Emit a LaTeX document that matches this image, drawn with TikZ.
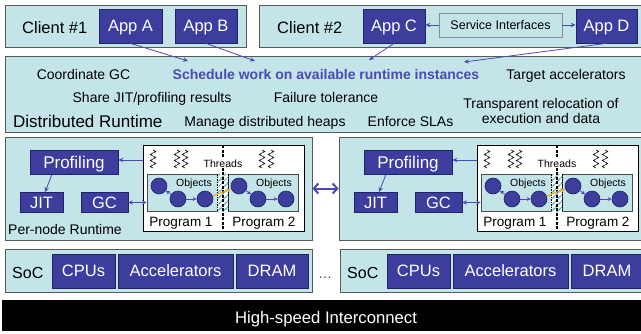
\documentclass[tikz,border=0pt]{standalone}
\usepackage{fontspec}
\setmainfont{Liberation Sans}
\usetikzlibrary{arrows.meta,decorations.pathmorphing,patterns.meta}
\definecolor{paneltl}{HTML}{C4E5E8}
\definecolor{dblue}{HTML}{3D3D9E}
\definecolor{dborder}{HTML}{22226A}
\definecolor{ablue}{HTML}{4A4AB4}
\definecolor{orng}{HTML}{F2A81D}
\definecolor{stripe}{HTML}{5FAAB2}
\newcommand{\myfs}[1]{\fontsize{#1pt}{#1pt}\selectfont}
\tikzset{
  panel/.style={draw=black!65, fill=paneltl, line width=0.9pt, inner sep=0pt},
  blk/.style={draw=dborder, fill=dblue, text=white, line width=0.7pt, inner sep=0pt, text depth=0pt},
  f165/.style={font=\myfs{16.5}, text height=11.8pt},
  arr/.style={draw=ablue, line width=0.8pt, -{Stealth[length=5pt,width=4.5pt]}},
  carr/.style={draw=ablue, line width=0.8pt, -{Stealth[length=4pt,width=4pt]}},
  lbl/.style={anchor=base, inner sep=0pt},
  circ/.style={circle, draw=dborder, fill=dblue, minimum size=16pt, inner sep=0pt, line width=0.6pt},
  squig/.style={decorate, decoration={zigzag, segment length=6pt, amplitude=2.8pt}, line width=0.6pt},
}
\begin{document}
\begin{tikzpicture}[x=1pt,y=-1pt]
\useasboundingbox (0,0) rectangle (641,333);
\clip (0,0) rectangle (641,333);

% ---------- clients ----------
\node[panel, minimum width=241pt, minimum height=42pt] (cl1) at (125.5,26) {};
\node[lbl, anchor=base west, font=\myfs{16.5}] (cl1t) at (22,33) {Client \#1};
\node[blk, f165, minimum width=63pt, minimum height=34pt] (appA) at (130.5,26) {App A};
\node[blk, f165, minimum width=62pt, minimum height=34pt] (appB) at (206,26) {App B};

\node[panel, minimum width=391pt, minimum height=42pt] (cl2) at (454.5,26) {};
\node[lbl, anchor=base west, font=\myfs{16.5}] (cl2t) at (277,33) {Client \#2};
\node[blk, f165, minimum width=62pt, minimum height=34pt] (appC) at (394,26) {App C};
\node[draw=black!45, fill=paneltl, line width=0.8pt, inner sep=0pt, minimum width=123pt, minimum height=24pt,
      font=\myfs{12.5}, text height=9pt, text depth=0pt] (svc) at (500.5,25) {Service Interfaces};
\node[blk, f165, minimum width=61pt, minimum height=34pt] (appD) at (606.5,26) {App D};
\draw[arr] (svc.west) -- (svc.west -| appC.east);
\draw[arr] (svc.east) -- (svc.east -| appD.west);

% ---------- distributed runtime ----------
\node[panel, minimum width=645pt, minimum height=76pt] (dr) at (327.5,94) {};
\node[lbl, font=\myfs{14}] (t1) at (83.5,79) {Coordinate GC};
\node[lbl, font=\myfs{14}\bfseries, text=ablue] (t2) at (326,79) {Schedule work on available runtime instances};
\node[lbl, font=\myfs{14}] (t3) at (566,79) {Target accelerators};
\node[lbl, font=\myfs{14}] (t4) at (152,102) {Share JIT/profiling results};
\node[lbl, font=\myfs{14}] (t5) at (326,102) {Failure tolerance};
\node[lbl, anchor=base west, font=\myfs{17}] (t6) at (13,127) {Distributed Runtime};
\node[lbl, font=\myfs{14}] (t7) at (265,126) {Manage distributed heaps};
\node[lbl, font=\myfs{14}] (t8) at (410.5,126) {Enforce SLAs};
\node[lbl, font=\myfs{14}] (t9) at (541,108) {Transparent relocation of};
\node[lbl, font=\myfs{14}] (t10) at (541,123) {execution and data};

\coordinate (sA) at (188,61);
\coordinate (sB) at (255,61);
\coordinate (sC) at (369,60);
\coordinate (sD) at (464,62);
\draw[arr] (appA.south) -- (sA);
\draw[arr] (appB.south) -- (sB);
\draw[arr] (appC.south) -- (sC);
\draw[arr] (appD.south) -- (sD);

% ---------- per-node runtimes ----------
\foreach \s/\dx in {L/0,R/334} {
\begin{scope}[xshift=\dx]
  \node[panel, minimum width=307pt, minimum height=103pt] (pn\s) at (158.5,188.5) {};
  \node[draw=black, fill=white, line width=0.8pt, inner sep=0pt, minimum width=161pt, minimum height=86pt] (thr\s) at (223.5,188) {};
  \node[draw=black!70, fill=paneltl, line width=0.7pt, inner sep=0pt, minimum width=70pt, minimum height=37pt] (oa\s) at (182,192.5) {};
  \node[draw=black!70, fill=paneltl, line width=0.7pt, inner sep=0pt, minimum width=70pt, minimum height=37pt] (ob\s) at (263,192.5) {};
  \fill[white] (217,174) rectangle (228,211);
  \fill[pattern={Lines[angle=45,distance=4pt,line width=1.4pt]}, pattern color=stripe] (217,174) rectangle (228,211);
  \draw[black, line width=0.5pt, dash pattern=on 1.5pt off 1pt] (217,174) -- (217,211) (228,174) -- (228,211);
  \draw[black, line width=1.1pt, dash pattern=on 3pt off 1.5pt] (223,145) -- (223,231);
  \node[lbl, font=\myfs{10.5}, fill=white, inner sep=1pt] (thl\s) at (223,167) {Threads};
  \draw[squig] (153,150) -- (153,168);
  \draw[squig] (177,150) -- (177,168);
  \draw[squig] (185,150) -- (185,168);
  \draw[squig] (262,150) -- (262,168);
  \draw[squig] (271,150) -- (271,168);
  \node[lbl, font=\myfs{10.5}] (ola\s) at (194,186) {Objects};
  \node[lbl, font=\myfs{10.5}] (olb\s) at (274,186) {Objects};
  \node[lbl, font=\myfs{13.5}] (pa\s) at (181,226) {Program 1};
  \node[lbl, font=\myfs{13.5}] (pb\s) at (264,226) {Program 2};
  \node[circ] (c1\s) at (159,186) {};
  \node[circ] (c2\s) at (178,199) {};
  \node[circ] (c3\s) at (205,199) {};
  \node[circ] (c4\s) at (239,186) {};
  \node[circ] (c5\s) at (258,199) {};
  \node[circ] (c6\s) at (286,199) {};
  \draw[carr] (c2\s) -- (c1\s);
  \draw[carr] (c2\s) -- (c3\s);
  \draw[carr] (c4\s) -- (c5\s);
  \draw[carr] (c5\s) -- (c6\s);
  \draw[draw=orng, line width=1.2pt, -{Stealth[length=5pt,width=4.5pt]}] (c3\s) -- (c4\s);
  \node[blk, font=\myfs{17}, text height=12.2pt, minimum width=88pt, minimum height=24pt] (prof\s) at (74,162) {Profiling};
  \node[blk, f165, minimum width=43pt, minimum height=20pt] (jit\s) at (41.5,202.5) {JIT};
  \node[blk, f165, minimum width=47pt, minimum height=20pt] (gc\s) at (104.5,202.5) {GC};
  \draw[arr] (thr\s.west |- 0,160) -- (prof\s.east |- 0,160);
  \draw[arr] ([xshift=-22pt]prof\s.south) -- ([xshift=3.5pt]jit\s.north);
  \draw[draw=ablue, line width=0.8pt, {Stealth[length=4.5pt,width=4.5pt]}-{Stealth[length=4.5pt,width=4.5pt]}] (gc\s.east) -- (gc\s.east -| oa\s.west);
\end{scope}
}
\node[lbl, anchor=base west, font=\myfs{14}] (pnrt) at (8,234) {Per-node Runtime};
\draw[draw=ablue, line width=2pt, {Straight Barb[length=4.5pt,width=10pt]}-{Straight Barb[length=4.5pt,width=10pt]}] (pnL.east) -- (pnR.west);

% ---------- SoC rows ----------
\foreach \s/\dx in {L/0,R/335} {
\begin{scope}[xshift=\dx]
  \node[panel, minimum width=307pt, minimum height=43pt] (soc\s) at (158.5,270.5) {};
  \node[lbl, anchor=base west, font=\myfs{16}] (soct\s) at (12,278) {SoC};
  \node[blk, f165, minimum width=63pt, minimum height=34pt] (cpu\s) at (83.5,271) {CPUs};
  \node[blk, f165, minimum width=115pt, minimum height=34pt] (acc\s) at (175.5,271) {Accelerators};
  \node[blk, f165, minimum width=72pt, minimum height=34pt] (dram\s) at (272,271) {DRAM};
\end{scope}
}
\node[lbl, font=\myfs{14}, text=black!70] (dots) at (325,278) {\dots};

% ---------- interconnect ----------
\node[fill=black, minimum width=643pt, minimum height=31pt, inner sep=0pt] (ic) at (323.5,315.5) {};
\node[lbl, font=\myfs{16.7}, text=white] (ict) at (326,323) {High-speed Interconnect};
\end{tikzpicture}
\end{document}
